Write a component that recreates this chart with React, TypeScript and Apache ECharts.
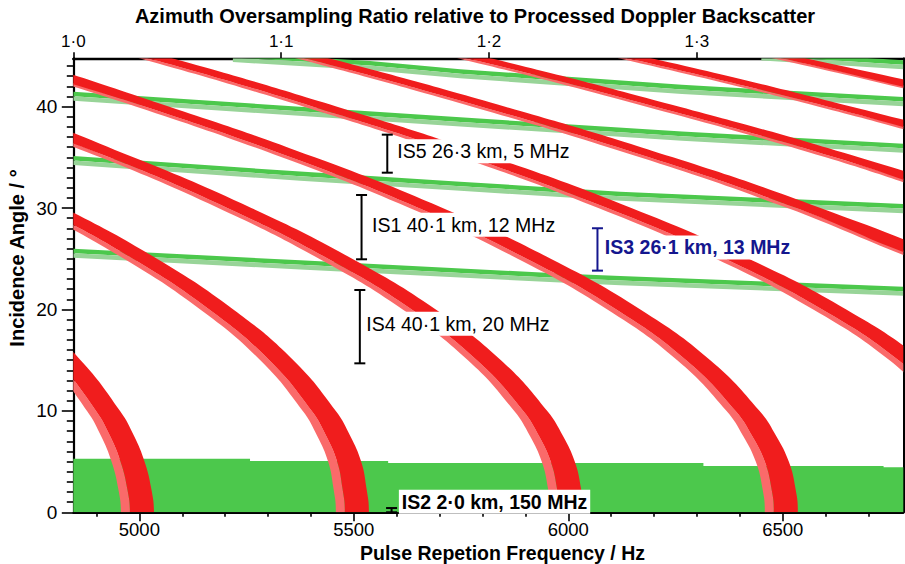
import React, { useEffect, useRef } from "react";
import * as echarts from "echarts";

const FONT = '"Liberation Sans", Arial, Helvetica, sans-serif';

// ---- axes ----
const PRF_MIN = 4846; // Hz, azimuth oversampling ratio 1.0
const PRF_MAX = 6781;
const ANGLE_MIN = 0;
const ANGLE_MAX = 44.77;
const RATIO_BASE = 4846;

const PRF_TICKS = [5000, 5500, 6000, 6500];
const PRF_MINOR_TICKS = [4900, 5100, 5200, 5300, 5400, 5600, 5700, 5800, 5900, 6100, 6200, 6300, 6400, 6600, 6700];
const ANGLE_TICKS = [0, 10, 20, 30, 40];
const ANGLE_MINOR_TICKS = [1, 2, 3, 4, 5, 6, 7, 8, 9, 11, 12, 13, 14, 15, 16, 17, 18, 19, 21, 22, 23, 24, 25, 26, 27, 28, 29, 31, 32, 33, 34, 35, 36, 37, 38, 39, 41, 42, 43, 44];
const RATIO_TICKS = [1.0, 1.1, 1.2, 1.3];

const TITLE_TOP = "Azimuth Oversampling Ratio relative to Processed Doppler Backscatter";
const TITLE_BOTTOM = "Pulse Repetion Frequency / Hz";
const TITLE_LEFT = "Incidence Angle / °";

// ---- red bands: high-PRF edge of each band, [PRF Hz, incidence angle °] ----
const RED_10 = [[4738, 20], [4863, 15], [4955, 10], [4988, 7.5], [5012, 5], [5027, 2.5], [5034, 0], [5027, -3]];
const RED_11 = [[4574, 35], [4825, 30], [5041, 25], [5219, 20], [5359, 15], [5458, 10], [5492, 7.5], [5517, 5], [5529, 2.5], [5535, 0], [5527, -3]];
const RED_12 = [[4673, 40], [4986, 35], [5261, 30], [5496, 25], [5691, 20], [5843, 15], [5951, 10], [5988, 7.5], [6015, 5], [6029, 2.5], [6035, 0], [6027, -3]];
const RED_13 = [[4695, 45], [5070, 40], [5409, 35], [5707, 30], [5959, 25], [6168, 20], [6331, 15], [6446, 10], [6485, 7.5], [6514, 5], [6529, 2.5], [6535, 0], [6526, -3]];
const RED_14 = [[4614, 50], [5058, 45], [5461, 40], [5826, 35], [6147, 30], [6421, 25], [6648, 20], [6826, 15], [6952, 10]];
const RED_15 = [[4945, 50], [5421, 45], [5853, 40], [6244, 35], [6588, 30], [6882, 25]];
const RED_16 = [[5291, 50], [5798, 45], [6259, 40], [6677, 35], [7043, 30]];
const RED_17 = [[5632, 50], [6171, 45], [6661, 40], [7104, 35]];
const RED_18 = [[5958, 50], [6529, 45], [7047, 40]];
const RED_BANDS = [RED_10, RED_11, RED_12, RED_13, RED_14, RED_15, RED_16, RED_17, RED_18];

// ---- green bands: upper edge, [PRF Hz, incidence angle °] ----
const GREEN_1 = [[4846, 26.0], [5375, 24.85], [5981, 23.55], [6121, 23.3], [6781, 22.25]];
const GREEN_2 = [[4846, 35.14], [5375, 33.6], [5748, 32.6], [6121, 31.62], [6781, 30.4]];
const GREEN_3 = [[4846, 41.48], [5748, 38.95], [6265, 37.54], [6781, 36.35]];
const GREEN_4 = [[5218, 45.3], [5538, 44.5], [5748, 43.7], [6265, 42.15], [6781, 40.95]];
const GREEN_5 = [[6450, 45.45], [6781, 44.58]];
const GREEN_BANDS = [GREEN_1, GREEN_2, GREEN_3, GREEN_4, GREEN_5];
const GREEN_FLOOR = [[4846, 5.29], [5258, 5.06], [5580, 4.86], [6315, 4.57], [6735, 4.44], [6781, 4.44]];

// ---- imaging-mode markers ----
const MODE_NAMES = ["IS5 26·3 km, 5 MHz", "IS1 40·1 km, 12 MHz", "IS4 40·1 km, 20 MHz", "IS3 26·1 km, 13 MHz", "IS2 2·0 km, 150 MHz"];
const MODE_PRF = [5578, 5518, 5514, 6068, 5588];
const MODE_LOW = [33.49, 24.95, 14.69, 23.83, 0];
const MODE_HIGH = [37.24, 31.29, 21.92, 28.01, 0.42];

// ---- styles / layout ----
const RED = "#f01d1d";
const PINK = "#fa6a6a";
const GREEN = "#4cc84c";
const LIGHT_GREEN = "#98d498";
const NAVY = "#14168e";
const RED_WIDTH = 56; // Hz
const PINK_WIDTH = 21; // Hz
const GREEN_CORE = 0.45; // deg
const GREEN_EDGE = 0.45; // deg
const SMOOTH = 0.45;
const MODE_STYLE = [
  { color: "#000", bold: false, dx: 7, dy: -2.5 },
  { color: "#000", bold: false, dx: 7.5, dy: -2.5 },
  { color: "#000", bold: false, dx: 3.5, dy: -3 },
  { color: NAVY, bold: true, dx: 4.4, dy: -2 },
  { color: "#000", bold: true, dx: 7.3, dy: -8.5 },
];

function bandPolygon(api: any, edge: number[][], dx0: number, dx1: number, dy0: number, dy1: number) {
  const a = edge.map(([f, t]) => api.coord([f + dx0, t + dy0]));
  const b = edge.map(([f, t]) => api.coord([f + dx1, t + dy1])).reverse();
  return a.concat(b);
}

function clipRect(params: any) {
  const c = params.coordSys;
  return { type: "rect", shape: { x: c.x, y: c.y, width: c.width, height: c.height } };
}

function buildOption(): any {
  const tickStyle = { color: "#000", width: 1.6 };
  return {
    animation: false,
    backgroundColor: "#fff",
    grid: { left: 73.3, right: 1.7, top: 58.3, bottom: 51.7, containLabel: false },
    xAxis: [
      {
        type: "value", position: "bottom", min: PRF_MIN, max: PRF_MAX,
        axisLine: { show: true, onZero: false, lineStyle: { color: "#000", width: 2 } },
        axisTick: { show: true, customValues: PRF_TICKS, length: 9, lineStyle: tickStyle },
        axisLabel: {
          show: true, customValues: PRF_TICKS, margin: 9.5, fontSize: 18.5, lineHeight: 16, fontFamily: FONT, color: "#000",
          formatter: (v: number) => String(v),
        },
        splitLine: { show: false },
      },
      {
        type: "value", position: "bottom", min: PRF_MIN, max: PRF_MAX,
        axisLine: { show: false, onZero: false },
        axisTick: { show: true, customValues: PRF_MINOR_TICKS, length: 4.5, lineStyle: tickStyle },
        axisLabel: { show: false },
        splitLine: { show: false },
      },
      {
        type: "value", position: "top", min: PRF_MIN / RATIO_BASE, max: PRF_MAX / RATIO_BASE,
        axisLine: { show: true, onZero: false, lineStyle: { color: "#000", width: 2.4 } },
        axisTick: { show: true, customValues: RATIO_TICKS, length: 6, lineStyle: tickStyle },
        axisLabel: {
          show: true, customValues: RATIO_TICKS, margin: 8, fontSize: 17, fontFamily: FONT, color: "#000",
          formatter: (v: number) => v.toFixed(1).replace(".", "·"),
        },
        splitLine: { show: false },
      },
    ],
    yAxis: [
      {
        type: "value", position: "left", min: ANGLE_MIN, max: ANGLE_MAX,
        axisLine: { show: true, onZero: false, lineStyle: { color: "#000", width: 2.2 } },
        axisTick: { show: true, customValues: ANGLE_TICKS, length: 11.5, lineStyle: tickStyle },
        axisLabel: { show: true, customValues: ANGLE_TICKS, margin: 16, fontSize: 19, fontFamily: FONT, color: "#000" },
        splitLine: { show: false },
      },
      {
        type: "value", position: "left", min: ANGLE_MIN, max: ANGLE_MAX,
        axisLine: { show: false, onZero: false },
        axisTick: { show: true, customValues: ANGLE_MINOR_TICKS, length: 6.5, lineStyle: tickStyle },
        axisLabel: { show: false },
        splitLine: { show: false },
      },
      {
        type: "value", position: "right", min: ANGLE_MIN, max: ANGLE_MAX,
        axisLine: { show: true, onZero: false, lineStyle: { color: "#000", width: 2 } },
        axisTick: { show: false },
        axisLabel: { show: false },
        splitLine: { show: false },
      },
    ],
    graphic: [
      {
        type: "text", x: 475, y: 15.8, silent: true,
        style: { text: TITLE_TOP, fontSize: 20, fontWeight: "bold", fontFamily: FONT, fill: "#000", align: "center", verticalAlign: "middle" },
      },
      {
        type: "text", x: 502.5, y: 552.5, silent: true,
        style: { text: TITLE_BOTTOM, fontSize: 19.5, lineHeight: 16, fontWeight: "bold", fontFamily: FONT, fill: "#000", align: "center", verticalAlign: "middle" },
      },
      {
        type: "text", x: 17.1, y: 258, rotation: Math.PI / 2, silent: true,
        style: { text: TITLE_LEFT, fontSize: 20, fontWeight: "bold", fontFamily: FONT, fill: "#000", align: "center", verticalAlign: "middle" },
      },
    ],
    series: [
      {
        type: "line", name: "floor", xAxisIndex: 0, yAxisIndex: 0, step: "end",
        data: GREEN_FLOOR, symbol: "none", silent: true, z: 1,
        lineStyle: { width: 0, color: GREEN }, areaStyle: { color: GREEN, opacity: 1, origin: "start" },
      },
      {
        type: "custom", name: "green", xAxisIndex: 0, yAxisIndex: 0, z: 2, silent: true, clip: true,
        data: GREEN_BANDS.map((b) => b[b.length - 1]),
        renderItem: (params: any, api: any) => {
          const edge = GREEN_BANDS[params.dataIndex];
          return {
            type: "group",
            clipPath: clipRect(params),
            children: [
              { type: "polygon", shape: { points: bandPolygon(api, edge, 0, 0, 0, -GREEN_CORE) }, style: { fill: GREEN } },
              { type: "polygon", shape: { points: bandPolygon(api, edge, 0, 0, -GREEN_CORE, -GREEN_CORE - GREEN_EDGE) }, style: { fill: LIGHT_GREEN } },
            ],
          };
        },
      },
      {
        type: "custom", name: "red", xAxisIndex: 0, yAxisIndex: 0, z: 3, silent: true, clip: true,
        data: RED_BANDS.map((b) => b[1]),
        renderItem: (params: any, api: any) => {
          const edge = RED_BANDS[params.dataIndex];
          return {
            type: "group",
            clipPath: clipRect(params),
            children: [
              { type: "polygon", shape: { points: bandPolygon(api, edge, -RED_WIDTH - PINK_WIDTH, -RED_WIDTH, 0, 0), smooth: SMOOTH }, style: { fill: PINK } },
              { type: "polygon", shape: { points: bandPolygon(api, edge, -RED_WIDTH, 0, 0, 0), smooth: SMOOTH }, style: { fill: RED } },
            ],
          };
        },
      },
      {
        type: "custom", name: "modes", xAxisIndex: 0, yAxisIndex: 0, z: 5, silent: true,
        data: MODE_PRF.map((p, i) => [p, MODE_LOW[i], MODE_HIGH[i]]),
        encode: { x: 0, y: [1, 2] },
        renderItem: (params: any, api: any) => {
          const i = params.dataIndex;
          const lo = api.coord([MODE_PRF[i], MODE_LOW[i]]);
          const hi = api.coord([MODE_PRF[i], MODE_HIGH[i]]);
          const st = MODE_STYLE[i];
          const stroke = { stroke: st.color, lineWidth: 2 };
          const mid = (lo[1] + hi[1]) / 2;
          return {
            type: "group",
            children: [
              { type: "line", shape: { x1: lo[0], y1: lo[1], x2: hi[0], y2: hi[1] }, style: stroke },
              { type: "line", shape: { x1: lo[0] - 5.5, y1: lo[1], x2: lo[0] + 5.5, y2: lo[1] }, style: stroke },
              { type: "line", shape: { x1: hi[0] - 5.5, y1: hi[1], x2: hi[0] + 5.5, y2: hi[1] }, style: stroke },
              {
                type: "text", x: lo[0] + st.dx, y: mid + st.dy,
                style: {
                  text: MODE_NAMES[i], fill: st.color, fontSize: 19.5, fontFamily: FONT,
                  fontWeight: st.bold ? "bold" : "normal", align: "left", verticalAlign: "middle",
                  backgroundColor: "#fff", padding: [2, 3],
                },
              },
            ],
          };
        },
      },
    ],
  };
}

export default function App() {
  const ref = useRef<HTMLDivElement>(null);
  useEffect(() => {
    if (!ref.current) return;
    const chart = echarts.init(ref.current, null, { renderer: "svg" });
    chart.setOption(buildOption());
    return () => chart.dispose();
  }, []);
  return (
    <div
      ref={ref}
      style={{ position: "fixed", left: 0, top: 0, width: 905, height: 564, background: "#fff" }}
    />
  );
}
